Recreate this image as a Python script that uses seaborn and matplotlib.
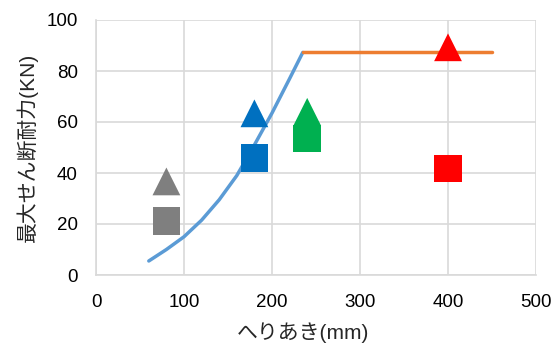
import matplotlib
matplotlib.use("Agg")
import matplotlib.pyplot as plt
import seaborn as sns
import pandas as pd

# Curve (theoretical) data
curve_x = [60, 80, 100, 120, 140, 160, 180, 200, 220, 235]
curve_y = [5.5, 10, 15, 21.5, 29.5, 39, 51, 63.5, 77, 87.3]
flat_x = [235, 450]
flat_y = [87.3, 87.3]

# Experimental points
pt_x = [80, 80, 180, 180, 240, 240, 400, 400]
pt_y = [36.7, 21.2, 63.4, 45.9, 64, 53.5, 89.3, 41.8]
pt_group = ["gray", "gray", "blue", "blue", "green", "green", "red", "red"]
pt_shape = ["tri", "sq", "tri", "sq", "tri", "sq", "tri", "sq"]

palette = {"gray": "#7F7F7F", "blue": "#0070C0", "green": "#00B050", "red": "#FF0000"}
markers = {"tri": "^", "sq": "s"}

sns.set_style("white")
plt.rcParams['font.family'] = ['Liberation Sans', 'Noto Sans CJK JP']

fig = plt.figure(figsize=(5.53, 3.48), dpi=100)
ax = fig.add_axes([96/553, 1-275/348, 440/553, 255/348])

df_curve = pd.DataFrame({"x": curve_x, "y": curve_y})
df_flat = pd.DataFrame({"x": flat_x, "y": flat_y})
sns.lineplot(data=df_curve, x="x", y="y", ax=ax, color="#5B9BD5", linewidth=2.5, zorder=2)
sns.lineplot(data=df_flat, x="x", y="y", ax=ax, color="#ED7D31", linewidth=2.5, zorder=2)

df_pts = pd.DataFrame({"x": pt_x, "y": pt_y, "g": pt_group, "m": pt_shape})
sns.scatterplot(data=df_pts, x="x", y="y", hue="g", style="m", palette=palette,
                markers=markers, s=400, linewidth=0, ax=ax, legend=False, zorder=3)

ax.set_xlim(0, 500)
ax.set_ylim(0, 100)
ax.set_xticks([0, 100, 200, 300, 400, 500])
ax.set_yticks([0, 20, 40, 60, 80, 100])
ax.grid(True, color="#D9D9D9", linewidth=1.2)
ax.set_axisbelow(True)
for s in ["top", "right"]:
    ax.spines[s].set_visible(False)
for s in ["left", "bottom"]:
    ax.spines[s].set_color("#D9D9D9")
    ax.spines[s].set_linewidth(1.2)
ax.tick_params(axis="both", length=0, labelsize=13.5, colors="#000000")
ax.tick_params(axis="y", pad=13)
ax.tick_params(axis="x", pad=14)
ax.set_xlabel("へりあき(mm)", fontsize=15)
ax.xaxis.set_label_coords(0.47, -0.185)
ax.set_ylabel("最大せん断耐力(KN)", fontsize=15, labelpad=6)

fig.savefig("out.png", dpi=100)
